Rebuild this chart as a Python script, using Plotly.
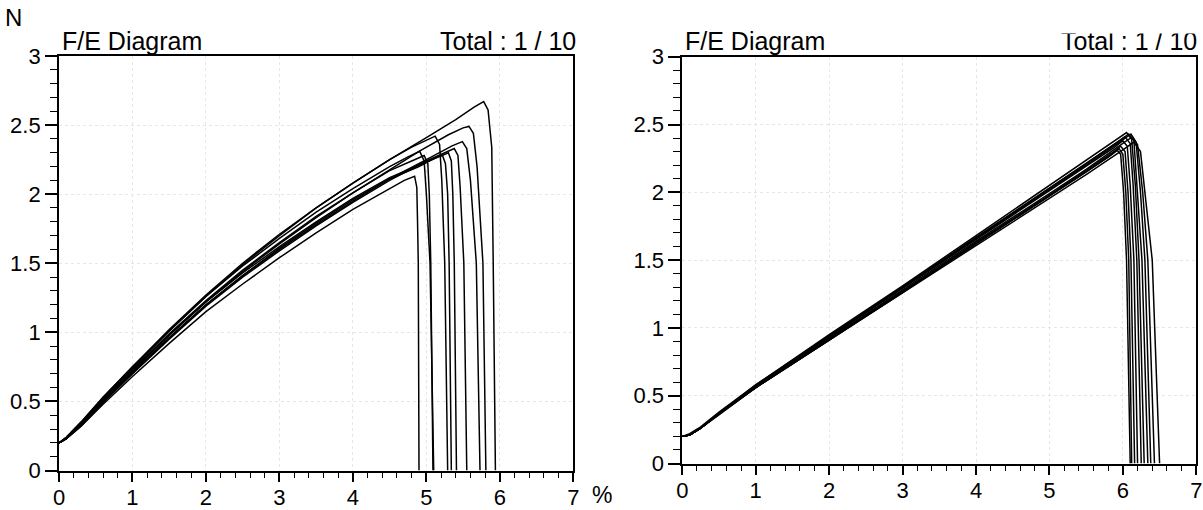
import plotly.graph_objects as go

# ---------------- data ----------------
# Left diagram: common strain grid for the rising part (%)
left_rise_strain = [0, 0.1, 0.3, 0.6, 1.0, 1.5, 2.0, 2.5, 3.0, 3.5, 4.0, 4.5]
left_rise_force = [
    [0.20, 0.23, 0.34, 0.52, 0.74, 1.01, 1.26, 1.49, 1.70, 1.90, 2.08, 2.25],
    [0.20, 0.23, 0.33, 0.51, 0.72, 0.98, 1.22, 1.44, 1.64, 1.83, 2.01, 2.18],
    [0.20, 0.23, 0.33, 0.50, 0.71, 0.96, 1.20, 1.41, 1.60, 1.78, 1.95, 2.11],
    [0.20, 0.23, 0.32, 0.49, 0.70, 0.95, 1.19, 1.40, 1.59, 1.77, 1.94, 2.10],
    [0.20, 0.24, 0.34, 0.51, 0.72, 0.98, 1.22, 1.43, 1.62, 1.80, 1.97, 2.12],
    [0.20, 0.23, 0.33, 0.50, 0.70, 0.96, 1.20, 1.41, 1.61, 1.79, 1.96, 2.11],
    [0.20, 0.24, 0.35, 0.53, 0.75, 1.02, 1.27, 1.50, 1.71, 1.90, 2.08, 2.25],
    [0.20, 0.23, 0.34, 0.52, 0.73, 0.99, 1.23, 1.45, 1.65, 1.84, 2.01, 2.17],
    [0.20, 0.24, 0.35, 0.53, 0.75, 1.01, 1.26, 1.48, 1.68, 1.87, 2.04, 2.20],
    [0.20, 0.23, 0.32, 0.48, 0.68, 0.92, 1.15, 1.35, 1.54, 1.72, 1.89, 2.04],
]
left_tail_strain = [
    [5.00, 5.40, 5.65, 5.78, 5.84, 5.89, 5.91, 5.94],
    [4.90, 5.30, 5.50, 5.58, 5.64, 5.69, 5.77, 5.81],
    [5.00, 5.35, 5.49, 5.55, 5.60, 5.68, 5.73],
    [5.00, 5.28, 5.38, 5.43, 5.46, 5.51, 5.55],
    [4.90, 5.20, 5.30, 5.34, 5.36, 5.38, 5.41],
    [4.90, 5.15, 5.22, 5.26, 5.29, 5.31, 5.34],
    [4.80, 5.00, 5.12, 5.18, 5.21, 5.25, 5.29],
    [4.80, 4.97, 5.02, 5.04, 5.06, 5.09],
    [4.75, 4.91, 4.97, 5.00, 5.05, 5.10],
    [4.70, 4.84, 4.87, 4.88, 4.89, 4.90],
]
left_tail_force = [
    [2.41, 2.54, 2.63, 2.67, 2.61, 2.34, 1.50, 0],
    [2.31, 2.43, 2.48, 2.49, 2.44, 2.20, 1.50, 0],
    [2.25, 2.35, 2.38, 2.33, 2.10, 1.50, 0],
    [2.24, 2.31, 2.33, 2.28, 2.05, 1.50, 0],
    [2.21, 2.28, 2.30, 2.24, 2.00, 1.50, 0],
    [2.20, 2.27, 2.28, 2.22, 2.00, 1.50, 0],
    [2.34, 2.39, 2.42, 2.36, 2.10, 1.50, 0],
    [2.24, 2.28, 2.22, 2.00, 1.50, 0],
    [2.27, 2.31, 2.24, 2.00, 1.50, 0],
    [2.10, 2.13, 2.05, 1.80, 1.50, 0],
]

# Right diagram
right_rise_strain = [0, 0.1, 0.25, 0.5, 1.0, 2.0, 3.0, 4.0, 5.0, 5.5]
right_rise_force = [
    [0.20, 0.21, 0.26, 0.37, 0.56, 0.91, 1.26, 1.62, 1.97, 2.15],
    [0.20, 0.21, 0.26, 0.37, 0.56, 0.92, 1.27, 1.63, 1.98, 2.16],
    [0.20, 0.21, 0.26, 0.37, 0.57, 0.93, 1.29, 1.65, 2.01, 2.19],
    [0.20, 0.21, 0.26, 0.37, 0.57, 0.94, 1.30, 1.66, 2.03, 2.21],
    [0.20, 0.21, 0.26, 0.37, 0.58, 0.95, 1.31, 1.68, 2.05, 2.23],
    [0.20, 0.22, 0.27, 0.38, 0.58, 0.94, 1.30, 1.67, 2.03, 2.21],
    [0.20, 0.21, 0.26, 0.37, 0.57, 0.93, 1.30, 1.66, 2.02, 2.20],
    [0.20, 0.21, 0.26, 0.37, 0.56, 0.92, 1.28, 1.64, 1.99, 2.17],
    [0.20, 0.21, 0.26, 0.36, 0.56, 0.91, 1.26, 1.61, 1.96, 2.13],
    [0.20, 0.21, 0.26, 0.36, 0.56, 0.91, 1.27, 1.62, 1.97, 2.15],
]
right_tail_strain = [
    [5.80, 5.92, 5.97, 6.01, 6.05, 6.10],
    [5.85, 5.97, 6.03, 6.07, 6.11, 6.16],
    [5.88, 6.00, 6.06, 6.10, 6.15, 6.20],
    [5.90, 6.03, 6.10, 6.14, 6.19, 6.25],
    [5.92, 6.05, 6.12, 6.17, 6.22, 6.29],
    [5.95, 6.08, 6.15, 6.20, 6.26, 6.34],
    [5.98, 6.11, 6.18, 6.24, 6.30, 6.38],
    [6.00, 6.13, 6.20, 6.27, 6.34, 6.43],
    [6.02, 6.15, 6.24, 6.31, 6.40, 6.50],
    [5.85, 5.95, 6.00, 6.04, 6.08, 6.12],
]
right_tail_force = [
    [2.26, 2.31, 2.28, 2.00, 1.50, 0],
    [2.29, 2.34, 2.30, 2.00, 1.50, 0],
    [2.33, 2.38, 2.34, 2.05, 1.50, 0],
    [2.36, 2.41, 2.36, 2.05, 1.50, 0],
    [2.39, 2.44, 2.39, 2.05, 1.50, 0],
    [2.38, 2.43, 2.38, 2.00, 1.50, 0],
    [2.38, 2.43, 2.37, 2.00, 1.50, 0],
    [2.36, 2.41, 2.35, 2.00, 1.50, 0],
    [2.32, 2.37, 2.30, 1.95, 1.50, 0],
    [2.28, 2.32, 2.28, 2.00, 1.50, 0],
]

x_range = [0, 7]
y_range = [0, 3]
title_text = "F/E Diagram"
total_text = "Total : 1 / 10"

# ---------------- figure ----------------
W, H = 1203, 510
FONT = "Liberation Sans, Arial, Helvetica, sans-serif"

fig = go.Figure()
line_style = dict(color="black", width=1.5)

for rf, ts, tf in zip(left_rise_force, left_tail_strain, left_tail_force):
    fig.add_trace(go.Scatter(x=left_rise_strain + ts, y=rf + tf, mode="lines",
                             line=line_style, xaxis="x", yaxis="y",
                             showlegend=False, hoverinfo="skip"))
for rf, ts, tf in zip(right_rise_force, right_tail_strain, right_tail_force):
    fig.add_trace(go.Scatter(x=right_rise_strain + ts, y=rf + tf, mode="lines",
                             line=line_style, xaxis="x2", yaxis="y2",
                             showlegend=False, hoverinfo="skip"))


def px_x(p):
    return p / W


def px_y(p):
    return 1 - p / H


def xaxis_cfg(dom, anchor):
    return dict(domain=dom, anchor=anchor, range=x_range, dtick=1, tick0=0,
                showline=True, linecolor="black", linewidth=1.8, mirror=True,
                ticks="outside", ticklen=10, tickwidth=1.6, tickcolor="black",
                ticklabelstandoff=-4,
                showgrid=True, gridcolor="#e6e6e6", griddash="dot", gridwidth=1,
                zeroline=False, automargin=False,
                tickfont=dict(family=FONT, size=22, color="black"),
                minor=dict(dtick=0.2, tick0=0, ticks="outside", ticklen=6,
                           tickwidth=1.3, tickcolor="black", showgrid=False))


def yaxis_cfg(dom, anchor):
    return dict(domain=dom, anchor=anchor, range=y_range, dtick=0.5, tick0=0,
                showline=True, linecolor="black", linewidth=1.8, mirror=True,
                ticks="outside", ticklen=12, tickwidth=1.6, tickcolor="black",
                showgrid=True, gridcolor="#e6e6e6", griddash="dot", gridwidth=1,
                zeroline=False, automargin=False,
                tickfont=dict(family=FONT, size=22, color="black"),
                minor=dict(dtick=0.1, tick0=0, ticks="outside", ticklen=7,
                           tickwidth=1.3, tickcolor="black", showgrid=False))


fig.update_layout(
    width=W, height=H,
    margin=dict(l=0, r=0, t=0, b=0),
    paper_bgcolor="white", plot_bgcolor="white",
    xaxis=xaxis_cfg([px_x(59), px_x(573.3)], "y"),
    yaxis=yaxis_cfg([px_y(470.5), px_y(56)], "x"),
    xaxis2=xaxis_cfg([px_x(682.3), px_x(1196.3)], "y2"),
    yaxis2=yaxis_cfg([px_y(463.5), px_y(56.7)], "x2"),
    font=dict(family=FONT, color="black"),
)

ann = [
    dict(text="N", x=px_x(13), y=px_y(18), xanchor="center", yanchor="middle", font_size=24),
    dict(text=title_text, x=px_x(60), y=px_y(41), xanchor="left", yanchor="middle", font_size=25),
    dict(text=total_text, x=px_x(578), y=px_y(41), xanchor="right", yanchor="middle", font_size=25),
    dict(text="%", x=px_x(602), y=px_y(495), xanchor="center", yanchor="middle", font_size=23),
    dict(text=title_text, x=px_x(683), y=px_y(41), xanchor="left", yanchor="middle", font_size=25),
    dict(text=total_text, x=px_x(1199), y=px_y(41), xanchor="right", yanchor="middle", font_size=25),
]
for a in ann:
    fig.add_annotation(xref="paper", yref="paper", showarrow=False,
                       font=dict(family=FONT, color="black", size=a.pop("font_size")), **a)

# the top edge of the right-hand "Total" text is cut off in the reference scan
fig.add_annotation(xref="paper", yref="paper", showarrow=False, text=" ",
                   x=px_x(1201), y=px_y(22), xanchor="right", yanchor="top",
                   width=150, height=10, bgcolor="white", borderpad=0,
                   font=dict(size=4))

fig.write_html("out.html")
